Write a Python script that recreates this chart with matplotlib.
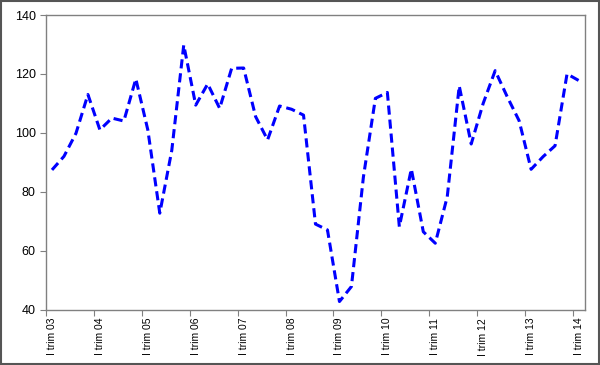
import numpy as np
import matplotlib
matplotlib.use('Agg')
import matplotlib.pyplot as plt
from matplotlib.patches import Rectangle

plt.rcParams['font.family'] = ['Liberation Sans', 'DejaVu Sans']

# Quarterly index, I trim 03 .. I trim 14
years = ['03', '04', '05', '06', '07', '08', '09', '10', '11', '12', '13', '14']
values = [87.4, 92, 99.8, 113, 101, 105, 104, 118.3, 101, 72.7,
          94, 129.8, 109.4, 116.6, 108.3, 121.9, 122, 105.5, 97.6, 109.1,
          108, 106, 69, 67, 42.7, 47.8, 85, 111.7, 113.7, 68.1,
          87.7, 66.4, 62.5, 78.3, 115.9, 96.2, 110, 121.1, 112.3, 104.1,
          87.6, 91.9, 95.6, 120, 117.7]

fig = plt.figure(figsize=(6, 3.65), dpi=100)
ax = fig.add_axes([46 / 600, 1 - 309.5 / 365, 539 / 600, 294.5 / 365])

x = np.arange(len(values)) + 0.5
ax.plot(x, values, color='#0000ff', linewidth=2.2, linestyle=(0, (3, 1.6)))

ax.set_xlim(0, len(values))
ax.set_ylim(40, 140)
ax.set_yticks(range(40, 141, 20))
ax.tick_params(axis='y', labelsize=9, direction='out', length=4, color='#808080')

# tick marks between categories, labels on the first quarter of each year
ax.set_xticks(np.arange(0, len(values), 4))
ax.set_xticklabels([])
ax.tick_params(axis='x', which='major', direction='out', length=4, color='#808080')
ax.set_xticks(np.arange(0, len(values), 4) + 0.5, minor=True)
ax.set_xticklabels(['I trim ' + y for y in years], minor=True, rotation=90, fontsize=7.5)
ax.tick_params(axis='x', which='minor', length=0, pad=6)

for s in ax.spines.values():
    s.set_color('#808080')
    s.set_linewidth(1)

fig.patches.append(Rectangle((0.002, 0.003), 0.996, 0.994, transform=fig.transFigure,
                             fill=False, edgecolor='#555555', linewidth=1.5))

fig.savefig('out.png', dpi=100)
